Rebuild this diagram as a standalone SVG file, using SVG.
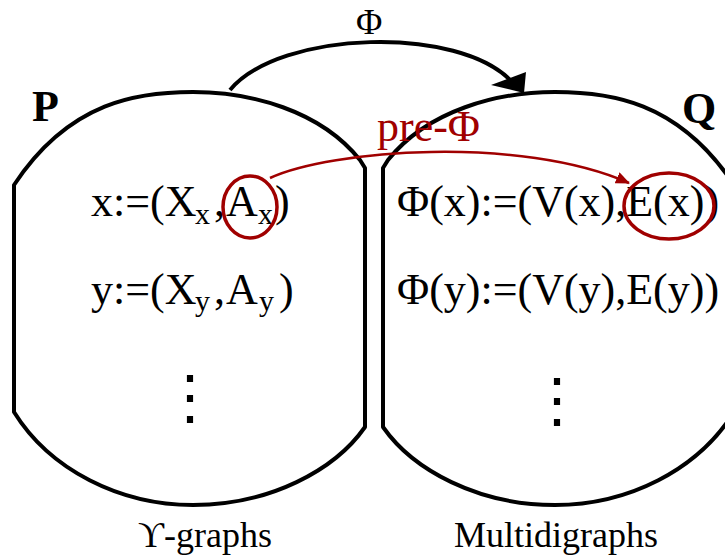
<svg xmlns="http://www.w3.org/2000/svg" width="725" height="560" viewBox="0 0 725 560">
<style>
.shape{fill:none;stroke:#000;stroke-width:4;stroke-linejoin:round}
.t{font-family:"Liberation Serif","DejaVu Serif",serif;fill:#000}
.m{font-size:44px}
.s{font-size:30px}
.b{font-size:44px;font-weight:bold}
.lab{font-size:36px}
.red{fill:none;stroke:#a00000;stroke-width:2.5}
.ring{fill:none;stroke:#a00000;stroke-width:3.5}
.dots{font-family:"DejaVu Serif",serif;font-size:60px}
</style>
<defs>
<marker id="rh" markerUnits="userSpaceOnUse" viewBox="0 0 14 12" refX="13" refY="6" markerWidth="14" markerHeight="12" orient="auto">
<path d="M0,0 L14,6 L0,12 Z" fill="#a00000"/>
</marker>
</defs>
<g id="P">
<path class="shape" d="M14,412 L14,185 C70,100 140,92 193,92 C250,92 320,110 360,160 L365,168 L365,427 C335,470 270,505 193,505 C120,505 50,470 14,412 Z"/>
<text class="t b" x="32" y="121">P</text>
<text class="t m" x="91" y="216">x:=(X</text>
<text class="t s" x="195" y="224">x</text>
<text class="t m" x="214" y="216">,</text>
<text class="t m" x="226" y="216">A</text>
<text class="t s" x="258" y="224">x</text>
<text class="t m" x="275" y="216">)</text>
<text class="t m" x="91" y="304">y:=(X</text>
<text class="t s" x="195" y="311">y</text>
<text class="t m" x="214" y="304">,</text>
<text class="t m" x="226" y="304">A</text>
<text class="t s" x="259" y="311">y</text>
<text class="t m" x="279" y="304">)</text>
<text class="t dots" x="190" y="418" text-anchor="middle">⋮</text>
<text class="t lab" x="138" y="547">ϒ-graphs</text>
</g>
<g id="Q">
<path class="shape" d="M734,412 L734,185 C678,100 608,92 555,92 C498,92 428,110 388,160 L383,168 L383,427 C413,470 478,505 555,505 C628,505 698,470 734,412 Z"/>
<text class="t b" x="682" y="123">Q</text>
<text class="t m" x="397" y="216">Φ(x):=(V(x),E(x))</text>
<text class="t m" x="397" y="304">Φ(y):=(V(y),E(y))</text>
<text class="t dots" x="557" y="421" text-anchor="middle">⋮</text>
<text class="t lab" x="454" y="547">Multidigraphs</text>
</g>
<g id="connectors">
<path class="shape" d="M230,90 C280,30 460,25 512,82"/>
<polygon points="524,93 491,85 526,72" fill="#000"/>
<text class="t" style="font-size:36px" x="356" y="34">Φ</text>
<ellipse class="ring" cx="250" cy="207" rx="27" ry="31"/>
<ellipse class="ring" cx="669" cy="206" rx="45" ry="33"/>
<path class="red" d="M270,178 C330,150 520,135 629,183" marker-end="url(#rh)"/>
<text class="t" style="font-size:44px;fill:#a00000" x="377" y="141">pre-Φ</text>
</g>
</svg>
